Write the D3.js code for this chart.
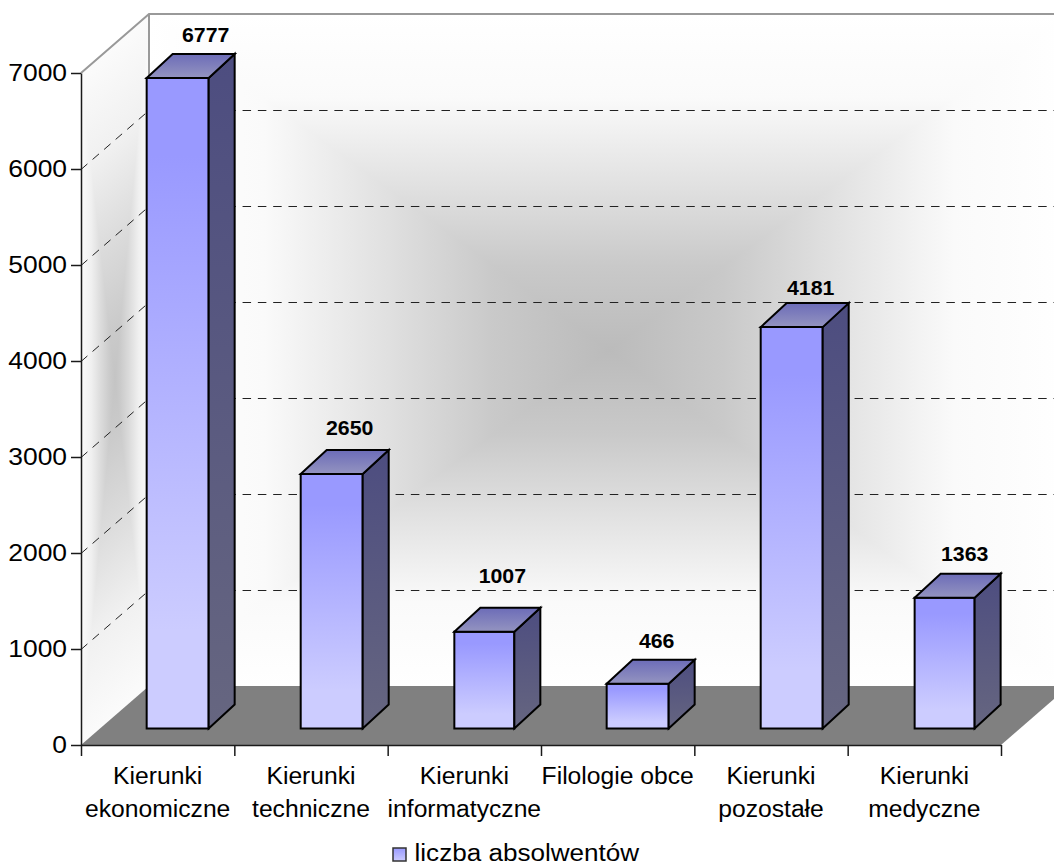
<!DOCTYPE html>
<html>
<head>
<meta charset="utf-8">
<script src="https://cdn.jsdelivr.net/npm/d3@7"></script>
<style>
  body { margin: 0; background: #fff; }
  svg { display: block; }
  text { font-family: "Liberation Sans", Arial, sans-serif; fill: #000; }
</style>
</head>
<body>
<div id="chart"></div>
<script>
//Data
const categories = ["Kierunki ekonomiczne", "Kierunki techniczne", "Kierunki informatyczne", "Filologie obce", "Kierunki pozostałe", "Kierunki medyczne"];
const categoryLines = [["Kierunki", "ekonomiczne"], ["Kierunki", "techniczne"], ["Kierunki", "informatyczne"], ["Filologie obce"], ["Kierunki", "pozostałe"], ["Kierunki", "medyczne"]];
const values = [6777, 2650, 1007, 466, 4181, 1363];
const yTicks = [0, 1000, 2000, 3000, 4000, 5000, 6000, 7000];
const seriesName = "liczba absolwentów";

//Layout
const width = 1054, height = 863;
const x0 = 81, x1 = 1001, y0 = 745, y7 = 73;
const depth = {x: 68, y: -59};        //wall depth
const barShift = {x: 20, y: -16.5};   //bars stand inside the floor
const barDepth = {x: 26, y: -24};
const barWidth = 62;
//the original rounds bars and labels unevenly, nudged by hand
const barNudge = [0, .7, 1, 0, .7, 1.3];
const barWidths = [62, 62, 60, 62, 62, 60];
const labelDx = [2, -8, -9, -7, -7, -7];
const labelDy = [-12, -15, -25, -12, -8, -13];

const wallStops = [[0, "#ffffff"], [.25, "#fafafa"], [.5, "#e2e2e2"], [.75, "#c9c9c9"], [1, "#bbbbbb"]];
const sideStops = [[0, "#fbfbfb"], [.3, "#f0f0f0"], [.6, "#dadada"], [.85, "#cacaca"], [1, "#c4c4c4"]];

const x = d3.scaleBand().domain(categories).range([x0, x1]);
const y = d3.scaleLinear().domain([0, 7000]).range([y0, y7]);
const xEdges = d3.scaleLinear().domain([0, categories.length]).range([x0, x1]);

const svg = d3.select("#chart").append("svg").attr("width", width).attr("height", height);
const defs = svg.append("defs");
const line = d3.line();

function linearGradient(id, stops, attrs) {
  let g = defs.append("linearGradient").attr("id", id);
  Object.keys(attrs).forEach(k => g.attr(k, attrs[k]));
  stops.forEach(s => g.append("stop").attr("offset", s[0]).attr("stop-color", s[1]));
}
linearGradient("barFront", [[0, "#9999ff"], [.12, "#9999ff"], [.85, "#ccccff"], [1, "#ccccff"]], {x1: 0, y1: 0, x2: 0, y2: 1});
linearGradient("barSide", [[0, "#4d4d80"], [1, "#666680"]], {x1: 0, y1: 0, x2: 0, y2: 1});
linearGradient("barTop", [[0, "#6c6cb8"], [1, "#9494c0"]], {x1: 0, y1: 0, x2: 0, y2: 1});

//Rectangular "path" gradient: one triangle per edge, shading towards the centre
function pathGradient(id, corners, stops) {
  let cx = d3.mean(corners, c => c[0]), cy = d3.mean(corners, c => c[1]);
  corners.forEach((p, i) => {
    let q = corners[(i + 1) % corners.length];
    let dx = q[0] - p[0], dy = q[1] - p[1];
    let t = ((cx - p[0]) * dx + (cy - p[1]) * dy) / (dx * dx + dy * dy);
    linearGradient(id + i, stops, {gradientUnits: "userSpaceOnUse", x1: p[0] + t * dx, y1: p[1] + t * dy, x2: cx, y2: cy});
    svg.append("path")
      .attr("d", line([p, q, [cx, cy]]) + "Z")
      .attr("fill", "url(#" + id + i + ")")
      .attr("shape-rendering", "crispEdges");
  });
}

//Walls
pathGradient("backWall", [[x0 + depth.x, y(7000) + depth.y], [x1 + depth.x, y(7000) + depth.y], [x1 + depth.x, y(0) + depth.y], [x0 + depth.x, y(0) + depth.y]], wallStops);
pathGradient("sideWall", [[x0, y(7000)], [x0 + depth.x, y(7000) + depth.y], [x0 + depth.x, y(0) + depth.y], [x0, y(0)]], sideStops);

//Floor
svg.append("path")
  .attr("d", line([[x0, y(0)], [x1, y(0)], [x1 + depth.x, y(0) + depth.y], [x0 + depth.x, y(0) + depth.y]]) + "Z")
  .attr("fill", "#808080");

//Gridlines
yTicks.filter(t => t > 0 && t < 7000).forEach(t => {
  svg.append("path")
    .attr("transform", "translate(0,.5)")
    .attr("d", line([[x0, y(t)], [x0 + depth.x, y(t) + depth.y], [x1 + depth.x, y(t) + depth.y]]))
    .attr("fill", "none").attr("stroke", "#222").attr("stroke-width", 1).attr("stroke-dasharray", "8.5,6.8");
});

//Wall outline
svg.append("path")
  .attr("d", line([[x0, y(7000)], [x0 + depth.x, y(7000) + depth.y], [x1 + depth.x, y(7000) + depth.y]]))
  .attr("fill", "none").attr("stroke", "#999").attr("stroke-width", 2);
svg.append("path")
  .attr("d", line([[x0 + depth.x, y(7000) + depth.y], [x0 + depth.x, y(0) + depth.y]]))
  .attr("fill", "none").attr("stroke", "#999").attr("stroke-width", 2);

//Bars
const bars = svg.selectAll(".bar").data(values).enter().append("g").attr("class", "bar");
function barX(d, i) { return x(categories[i]) + (x.bandwidth() - barWidth) / 2 + barShift.x + barNudge[i]; }
function barFace(corners) { return line(corners) + "Z"; }
bars.append("path").attr("fill", "url(#barFront)")
  .attr("d", (d, i) => {
    let a = barX(d, i), t = y(d) + barShift.y, b = y(0) + barShift.y;
    return barFace([[a, t], [a + barWidths[i], t], [a + barWidths[i], b], [a, b]]);
  });
bars.append("path").attr("fill", "url(#barSide)")
  .attr("d", (d, i) => {
    let a = barX(d, i) + barWidths[i], t = y(d) + barShift.y, b = y(0) + barShift.y;
    return barFace([[a, t], [a + barDepth.x, t + barDepth.y], [a + barDepth.x, b + barDepth.y], [a, b]]);
  });
bars.append("path").attr("fill", "url(#barTop)")
  .attr("d", (d, i) => {
    let a = barX(d, i), t = y(d) + barShift.y;
    return barFace([[a, t], [a + barDepth.x, t + barDepth.y], [a + barWidths[i] + barDepth.x, t + barDepth.y], [a + barWidths[i], t]]);
  });
bars.selectAll("path").attr("stroke", "#000").attr("stroke-width", 2).attr("stroke-linejoin", "miter");

//Value labels
svg.selectAll(".value").data(values).enter().append("text")
  .attr("class", "value")
  .attr("text-anchor", "middle")
  .attr("font-size", 20.5).attr("font-weight", "bold")
  .attr("transform", (d, i) => {
    let cx = x(categories[i]) + x.bandwidth() / 2 + barShift.x + barDepth.x + labelDx[i] + barNudge[i];
    let by = y(d) + barShift.y + barDepth.y + labelDy[i];
    return "translate(" + cx + "," + by + ") scale(1.04,1)";
  })
  .text(d => d);

//Axes
const yAxis = svg.append("g").attr("transform", "translate(" + x0 + ",0)")
  .call(d3.axisLeft(y).tickValues(yTicks).tickFormat(d3.format("d")).tickSize(10).tickSizeOuter(0).tickPadding(0));
const xAxis = svg.append("g").attr("transform", "translate(0," + y0 + ")")
  .call(d3.axisBottom(xEdges).ticks(categories.length).tickFormat("").tickSize(11).tickSizeOuter(0));
[yAxis, xAxis].forEach(a => {
  a.attr("fill", null).attr("font-family", null).attr("font-size", null);
  a.selectAll("path, line").attr("stroke", "#1a1a1a").attr("stroke-width", 1.5);
});
yAxis.selectAll("text")
  .attr("font-size", 24).attr("fill", null)
  .attr("x", 0)
  .attr("transform", "translate(-14,0) scale(1.1,1)")
  .style("text-anchor", "end");

//Category labels
categoryLines.forEach((lines, i) => {
  lines.forEach((l, j) => {
    svg.append("text")
      .attr("text-anchor", "middle")
      .attr("font-size", 23.5)
      .attr("transform", "translate(" + (x(categories[i]) + x.bandwidth() / 2) + "," + (784 + j * 32.5) + ") scale(1.05,1)")
      .text(l);
  });
});

//Legend
linearGradient("legendFill", [[0, "#9999ff"], [1, "#ccccff"]], {x1: 0, y1: 0, x2: 0, y2: 1});
svg.append("rect").attr("x", 393).attr("y", 848).attr("width", 13).attr("height", 13)
  .attr("fill", "url(#legendFill)").attr("stroke", "#333").attr("stroke-width", 1.5);
svg.append("text")
  .attr("font-size", 24.5)
  .attr("transform", "translate(414.5,861) scale(1.065,1)")
  .text(seriesName);
</script>
</body>
</html>
